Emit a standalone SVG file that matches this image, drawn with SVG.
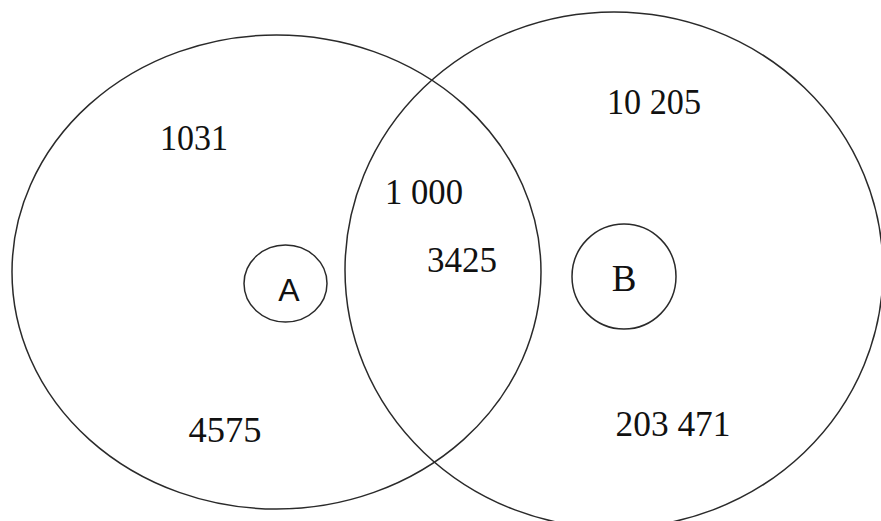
<svg xmlns="http://www.w3.org/2000/svg" width="881" height="521" viewBox="0 0 881 521">
<style>
.set{fill:none;stroke:#2a2a2a;stroke-width:1.5}
.num{font-family:"Liberation Serif","Times New Roman",serif;font-size:36px;fill:#111;text-anchor:middle}
.lblA{font-family:"Liberation Sans",Arial,sans-serif;font-size:32px;fill:#111;text-anchor:middle}
.lblB{font-family:"Liberation Serif","Times New Roman",serif;font-size:37px;fill:#111;text-anchor:middle}
</style>
<rect width="881" height="521" fill="#ffffff"/>
<g id="setLeft">
<ellipse class="set" cx="276.5" cy="272" rx="264.5" ry="237"/>
</g>
<g id="setRight">
<ellipse class="set" cx="614" cy="270" rx="269" ry="258"/>
</g>
<g id="nodeA">
<ellipse class="set" cx="285.5" cy="283.5" rx="41.5" ry="38.5"/>
<text class="lblA" x="289" y="301">A</text>
</g>
<g id="nodeB">
<ellipse class="set" cx="624" cy="276.5" rx="52" ry="52.5"/>
<text class="lblB" x="624" y="291">B</text>
</g>
<g id="labels">
<text class="num" x="194" y="150" textLength="68" lengthAdjust="spacingAndGlyphs">1031</text>
<text class="num" x="654" y="114" textLength="94" lengthAdjust="spacingAndGlyphs">10 205</text>
<text class="num" x="424" y="204" textLength="78" lengthAdjust="spacingAndGlyphs">1 000</text>
<text class="num" x="462" y="272" textLength="70" lengthAdjust="spacingAndGlyphs">3425</text>
<text class="num" x="225" y="442" textLength="73" lengthAdjust="spacingAndGlyphs">4575</text>
<text class="num" x="673" y="436" textLength="115" lengthAdjust="spacingAndGlyphs">203 471</text>
</g>
</svg>
